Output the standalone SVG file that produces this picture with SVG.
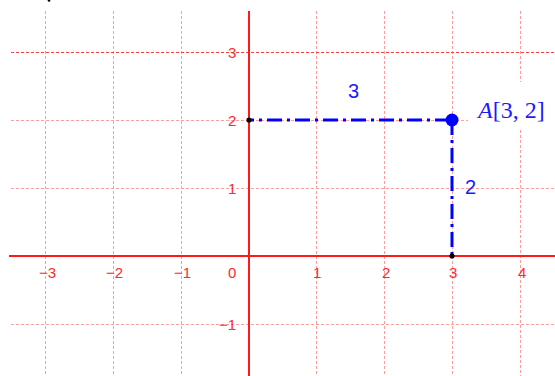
<svg xmlns="http://www.w3.org/2000/svg" width="555" height="376" viewBox="0 0 555 376">
<style>
.grid{stroke:#ff9c9c;stroke-width:1;stroke-dasharray:3 2;fill:none}
.grid3{stroke:#ff3c3c;stroke-width:1;stroke-dasharray:3 2;fill:none}
.axis{stroke:#ff1a1a;stroke-width:2;fill:none}
.tick{font-family:"Liberation Sans",Arial,sans-serif;font-size:15px;fill:#ff2a2a}
.seg{stroke:#0000ff;stroke-width:3;fill:none;stroke-dasharray:15 5 3 5}
.lbl{font-family:"Liberation Sans",Arial,sans-serif;font-size:20px;fill:#1a1aff}
.math{font-family:"Liberation Serif","Times New Roman",serif;font-size:24px;fill:#1a1aff}
</style>
<rect width="555" height="376" fill="#ffffff"/>
<g id="grid">
<path class="grid" d="M45.5 11V376M113.5 11V376M181.5 11V376M316.5 11V376M384.5 11V376M452.5 11V376M520.5 11V82M520.5 130V376"/>
<path class="grid" d="M11 120.5H468M11 188.5H555M11 324.5H555"/>
<path class="grid3" d="M11 52.5H555"/>
</g>
<g id="axes">
<path class="axis" d="M9 256H555"/>
<path class="axis" d="M249 11V376"/>
</g>
<g id="ticks">
<text class="tick" x="39" y="278">−3</text>
<text class="tick" x="106" y="278">−2</text>
<text class="tick" x="174" y="278">−1</text>
<text class="tick" x="228" y="278">0</text>
<text class="tick" x="313" y="278">1</text>
<text class="tick" x="382" y="278">2</text>
<text class="tick" x="449" y="278">3</text>
<text class="tick" x="518" y="278">4</text>
<text class="tick" x="228" y="58">3</text>
<text class="tick" x="228" y="126">2</text>
<text class="tick" x="228" y="194">1</text>
<text class="tick" x="219" y="330">−1</text>
</g>
<g id="connectors">
<path class="seg" d="M249 120H452" stroke-dashoffset="10"/>
<path class="seg" d="M452 120V256"/>
</g>
<g id="origin-y2">
<circle cx="249" cy="120" r="2.6" fill="#000000"/>
</g>
<g id="foot-x3">
<circle cx="452" cy="256" r="2.6" fill="#000000"/>
</g>
<g id="pointA">
<circle cx="452" cy="120" r="6.5" fill="#0000ff"/>
<text class="math" x="478" y="118"><tspan font-style="italic">A</tspan>[3, 2]</text>
</g>
<g id="label-3">
<text class="lbl" x="348" y="98">3</text>
</g>
<g id="label-2">
<text class="lbl" x="465" y="194">2</text>
</g>
<g id="mark">
<circle cx="49" cy="0.5" r="1.3" fill="#000000"/>
</g>
</svg>
